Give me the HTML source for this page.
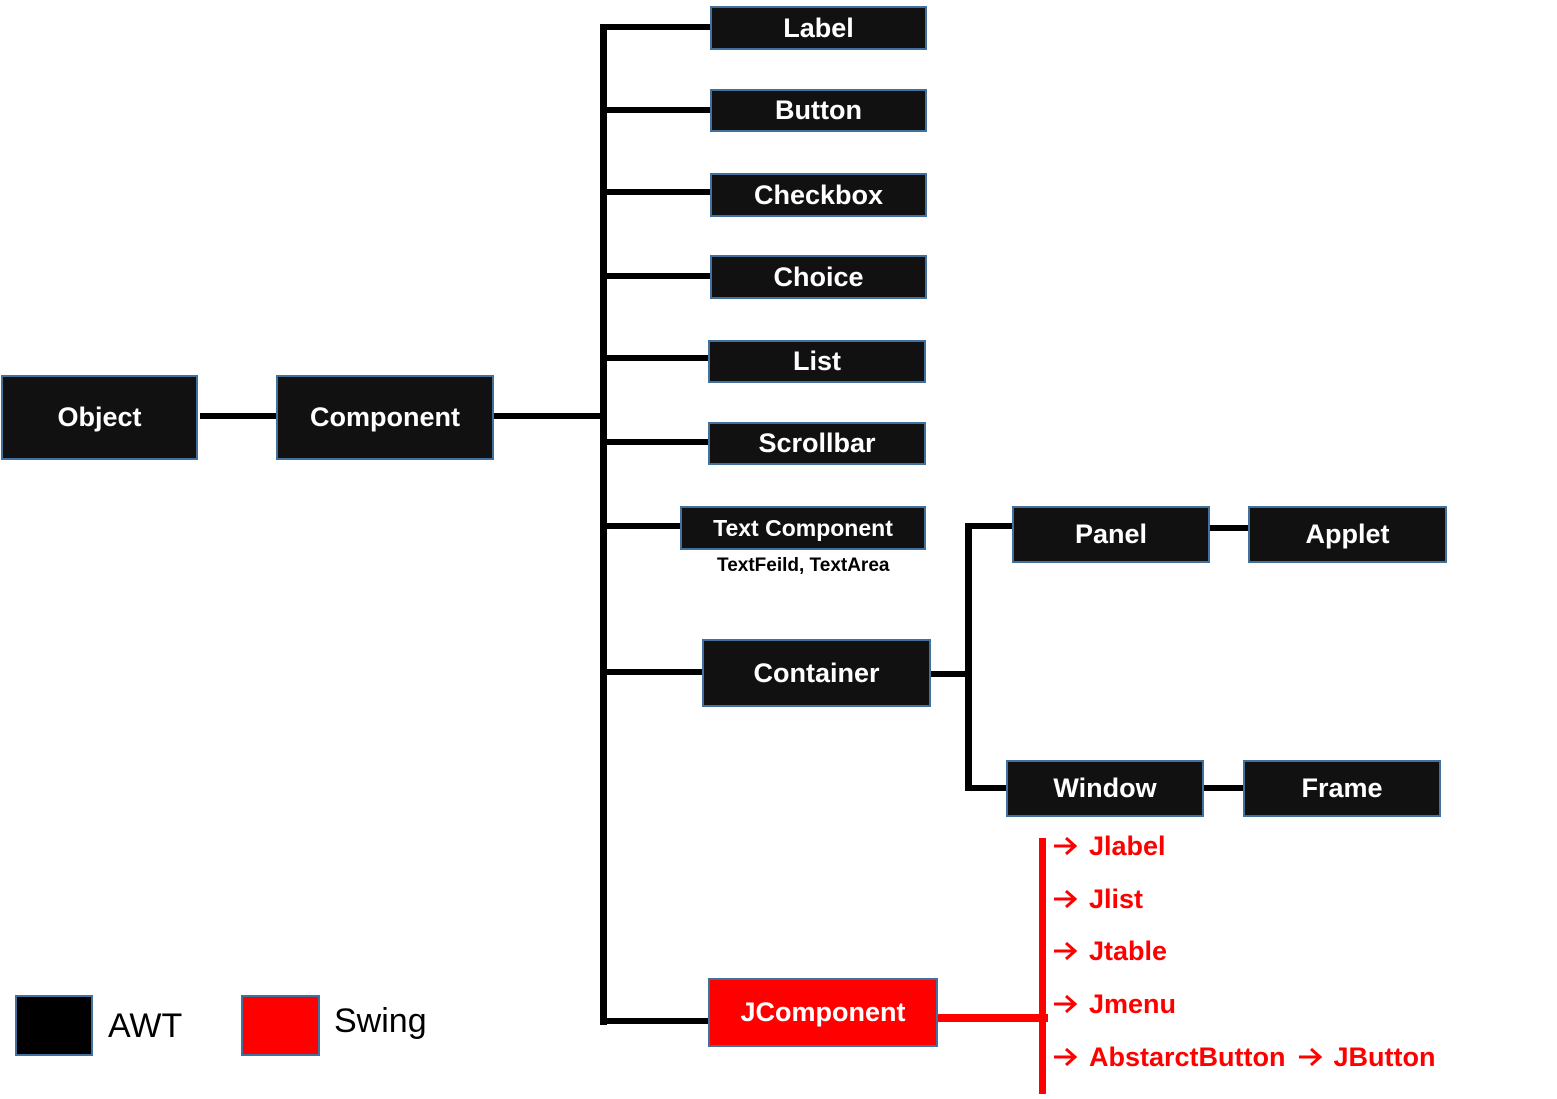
<!DOCTYPE html>
<html><head><meta charset="utf-8"><style>
body{margin:0;width:1557px;height:1099px;background:#fff;position:relative;overflow:hidden;font-family:"Liberation Sans",sans-serif}
.b{position:absolute;background:#111;border:2px solid #41719c;box-sizing:border-box;color:#fff;font-weight:bold;font-size:27px;display:flex;align-items:center;justify-content:center;white-space:nowrap}
.l{position:absolute;background:#000}
.r{position:absolute;background:#f00}
.t{position:absolute;color:#f00;font-weight:bold;font-size:27px;white-space:nowrap;line-height:30px;display:flex;align-items:center}
.t svg{margin-right:12px}
.t .m{margin-left:12px}
</style></head><body>
<div class="l" style="left:200px;top:413px;width:76px;height:6px"></div>
<div class="l" style="left:493px;top:413px;width:110px;height:6px"></div>
<div class="l" style="left:600px;top:24px;width:7px;height:1001px"></div>
<div class="l" style="left:600px;top:24px;width:110px;height:6px"></div>
<div class="l" style="left:600px;top:107px;width:110px;height:6px"></div>
<div class="l" style="left:600px;top:189px;width:110px;height:6px"></div>
<div class="l" style="left:600px;top:273px;width:110px;height:6px"></div>
<div class="l" style="left:600px;top:355px;width:108px;height:6px"></div>
<div class="l" style="left:600px;top:439px;width:108px;height:6px"></div>
<div class="l" style="left:600px;top:523px;width:80px;height:6px"></div>
<div class="l" style="left:600px;top:669px;width:102px;height:6px"></div>
<div class="l" style="left:600px;top:1018px;width:108px;height:6px"></div>
<div class="l" style="left:930px;top:671px;width:40px;height:6px"></div>
<div class="l" style="left:965px;top:523px;width:7px;height:268px"></div>
<div class="l" style="left:965px;top:523px;width:47px;height:6px"></div>
<div class="l" style="left:965px;top:785px;width:41px;height:6px"></div>
<div class="l" style="left:1209px;top:525px;width:39px;height:6px"></div>
<div class="l" style="left:1203px;top:785px;width:40px;height:6px"></div>
<div class="r" style="left:937px;top:1014px;width:111px;height:8px"></div>
<div class="r" style="left:1039px;top:838px;width:7px;height:256px"></div>

<div class="b" style="left:1px;top:375px;width:197px;height:85px">Object</div>
<div class="b" style="left:276px;top:375px;width:218px;height:85px">Component</div>
<div class="b" style="left:710px;top:6px;width:217px;height:44px">Label</div>
<div class="b" style="left:710px;top:89px;width:217px;height:43px">Button</div>
<div class="b" style="left:710px;top:173px;width:217px;height:44px">Checkbox</div>
<div class="b" style="left:710px;top:255px;width:217px;height:44px">Choice</div>
<div class="b" style="left:708px;top:340px;width:218px;height:43px">List</div>
<div class="b" style="left:708px;top:422px;width:218px;height:43px">Scrollbar</div>
<div class="b" style="left:680px;top:506px;width:246px;height:44px;font-size:23px">Text Component</div>
<div style="position:absolute;left:717px;top:555px;font-weight:bold;font-size:19px">TextFeild, TextArea</div>
<div class="b" style="left:702px;top:639px;width:229px;height:68px">Container</div>
<div class="b" style="left:1012px;top:506px;width:198px;height:57px">Panel</div>
<div class="b" style="left:1248px;top:506px;width:199px;height:57px">Applet</div>
<div class="b" style="left:1006px;top:760px;width:198px;height:57px">Window</div>
<div class="b" style="left:1243px;top:760px;width:198px;height:57px">Frame</div>
<div class="b" style="left:708px;top:978px;width:230px;height:69px;background:#f00">JComponent</div>

<svg width="0" height="0" style="position:absolute"><defs><g id="a"><path d="M1 10H22M13 2L22 10L13 18" stroke="#f00" stroke-width="3" fill="none"/></g></defs></svg>
<div class="t" style="left:1053px;top:831px"><svg width="24" height="20"><use href="#a"/></svg>Jlabel</div>
<div class="t" style="left:1053px;top:884px"><svg width="24" height="20"><use href="#a"/></svg>Jlist</div>
<div class="t" style="left:1053px;top:936px"><svg width="24" height="20"><use href="#a"/></svg>Jtable</div>
<div class="t" style="left:1053px;top:989px"><svg width="24" height="20"><use href="#a"/></svg>Jmenu</div>
<div class="t" style="left:1053px;top:1042px"><svg width="24" height="20"><use href="#a"/></svg>AbstarctButton<svg class="m" width="24" height="20"><use href="#a"/></svg>JButton</div>

<div style="position:absolute;left:15px;top:995px;width:78px;height:61px;background:#000;border:2px solid #41719c;box-sizing:border-box"></div>
<div style="position:absolute;left:108px;top:1006px;font-size:34px;line-height:40px">AWT</div>
<div style="position:absolute;left:241px;top:995px;width:79px;height:61px;background:#f00;border:2px solid #41719c;box-sizing:border-box"></div>
<div style="position:absolute;left:334px;top:1001px;font-size:34px;line-height:40px">Swing</div>
</body></html>
